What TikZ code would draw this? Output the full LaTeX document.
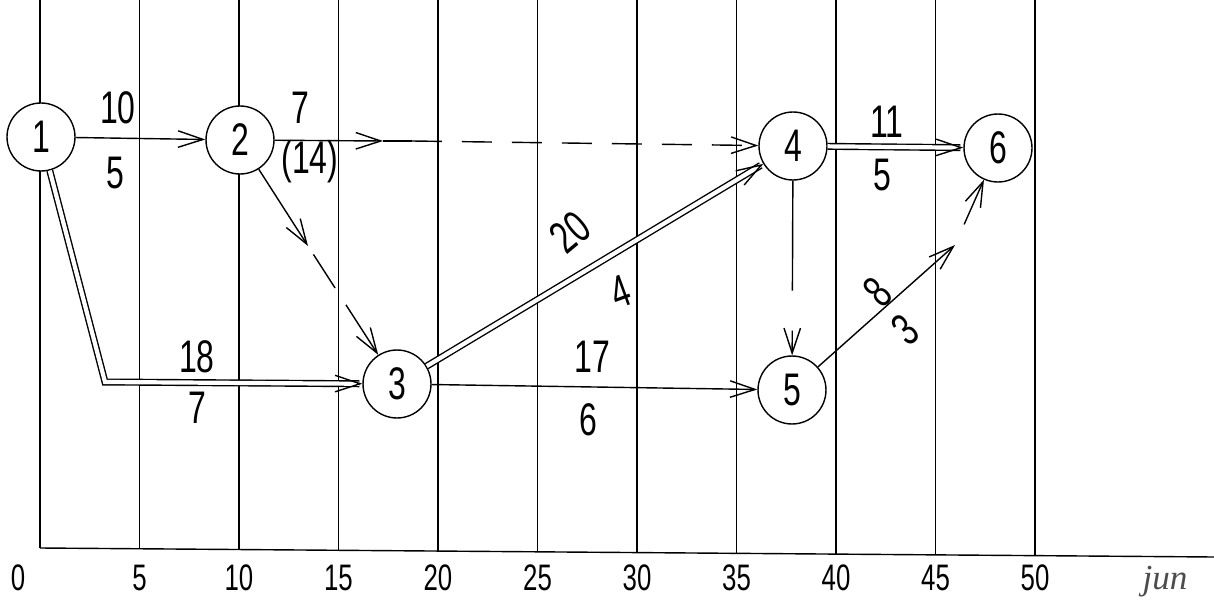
\documentclass[tikz,border=0pt]{standalone}
\usepackage{fontspec}
\setmainfont{Liberation Sans}[FakeStretch=0.7]
\newfontfamily\handfont{Liberation Serif}
\usetikzlibrary{arrows.meta}
\tikzset{
  event/.style={circle,draw,fill=white,line width=0.8pt,minimum size=1.36cm,
                inner sep=0pt,font=\fontsize{26}{30}\selectfont},
  ar/.style={-{Straight Barb[length=5mm,width=3.3mm]},line width=0.8pt},
  crit/.style={ar,double,double distance=2.4pt},
  dsh/.style={dash pattern=on 0.6cm off 0.4cm},
  lab/.style={font=\fontsize{26}{30}\selectfont,inner sep=0pt},
  tick/.style={font=\fontsize{21}{24}\selectfont,inner sep=1pt},
}
\begin{document}
\begin{tikzpicture}[x=0.02cm,y=-0.02cm]
  \useasboundingbox[fill=white] (0,0) rectangle (1214,612);
  % time scale
  \draw[line width=0.8pt] (40,548) -- (1214,557);
  \foreach \t in {0,5,...,50}{
    \pgfmathsetmacro\xx{40+19.9*\t}
    \pgfmathsetmacro\yy{548+0.00767*(\xx-40)}
    \draw[line width=0.7pt] (\xx,0) -- (\xx,\yy);
  }
  \foreach \t in {5,10,...,50}
    \node[tick] (t\t) at ({40+19.9*\t},578) {\t};
  \node[tick] (t0) at (18,578) {0};
  \node[font=\handfont\itshape\fontsize{20}{24}\selectfont,text=black!70] (unit) at (1165,582) {jun};
  % events
  \node[event] (n1) at (41,137) {1};
  \node[event] (n2) at (240,140) {2};
  \node[event] (n3) at (397,384) {3};
  \node[event] (n4) at (793,146) {4};
  \node[event] (n5) at (792,390) {5};
  \node[event] (n6) at (998,148) {6};
  % activities
  \draw[ar] (n1) -- (n2);
  \coordinate (a24) at (383,141);
  \coordinate (b24) at (412,141);
  \draw[ar] (n2) -- (a24);
  \draw[line width=0.8pt] (a24) -- (b24);
  \draw[ar,dsh] (b24) -- (n4);
  \coordinate (a23) at (308,246);
  \draw[ar] (n2) -- (a23);
  \draw[ar,dash pattern=on 0pt off 0.2cm on 0.8cm off 0.4cm on 2cm] (a23) -- (n3);
  \coordinate (k13) at (105,382);
  \draw[crit] (n1) -- (k13) -- (n3);
  \draw[crit] (n3) -- (n4);
  \draw[ar] (n3) -- (n5);
  \draw[crit] (n4) -- (n6);
  \draw[ar,dash pattern=on 2.2cm off 0.8cm on 3cm] (n4) -- (n5);
  \coordinate (a56) at (955,245);
  \draw[ar] (n5) -- (a56);
  \draw[ar,dash pattern=on 0pt off 0.45cm on 3cm] (a56) -- (n6);
  % durations
  \node[lab] (d12) at (118,108) {10};
  \node[lab] (e12) at (115,173) {5};
  \node[lab] (d24) at (300,108) {7};
  \node[lab] (e24) at (310,162) {(14)};
  \node[lab] (d13) at (197,357) {18};
  \node[lab] (e13) at (197,408) {7};
  \node[lab,rotate=40] (d34) at (570,232) {20};
  \node[lab,rotate=20] (e34) at (620,292) {4};
  \node[lab] (d35) at (592,357) {17};
  \node[lab] (e35) at (588,420) {6};
  \node[lab] (d46) at (887,122) {11};
  \node[lab] (e46) at (882,175) {5};
  \node[lab,rotate=45] (d56) at (878,292) {8};
  \node[lab,rotate=40] (e56) at (905,330) {3};
\end{tikzpicture}
\end{document}
